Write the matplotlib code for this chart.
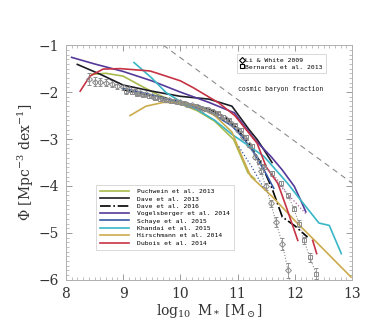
import numpy as np
import matplotlib
matplotlib.use("Agg")
import matplotlib.pyplot as plt
from matplotlib.ticker import MultipleLocator
from matplotlib.lines import Line2D

# simulation curves, log10 M* vs log10 Phi
puch_x = [8.45, 8.7, 9.0, 9.3, 9.6, 10.0, 10.3, 10.6, 10.93, 11.05, 11.18, 11.3]
puch_y = [-1.62, -1.6, -1.66, -1.86, -2.05, -2.25, -2.4, -2.62, -3.01, -3.35, -3.72, -3.85]

dave13_x = [8.2, 8.6, 9.0, 9.5, 10.0, 10.5, 10.9, 11.05, 11.2, 11.34, 11.46, 11.6]
dave13_y = [-1.41, -1.62, -1.85, -1.98, -2.09, -2.15, -2.3, -2.55, -2.8, -3.01, -3.23, -3.5]

dave16_x = [9.0, 9.5, 10.0, 10.5, 10.8, 11.0, 11.2, 11.4, 11.6, 11.78, 12.0, 12.22]
dave16_y = [-1.95, -2.07, -2.2, -2.36, -2.55, -2.8, -3.1, -3.5, -4.05, -4.66, -4.85, -5.09]

vogel_x = [8.1, 8.5, 9.0, 9.5, 10.0, 10.5, 10.94, 11.29, 11.58, 11.78, 11.99, 12.1, 12.19]
vogel_y = [-1.26, -1.4, -1.56, -1.76, -2.0, -2.22, -2.44, -3.0, -3.37, -3.66, -4.01, -4.3, -4.55]

schaye_x = [9.0, 9.5, 10.0, 10.5, 10.9, 11.1, 11.3, 11.5, 11.63]
schaye_y = [-1.92, -2.06, -2.22, -2.42, -2.72, -2.98, -3.32, -3.75, -4.05]

khandai_x = [9.19, 9.5, 9.75, 10.0, 10.3, 10.6, 10.9, 11.2, 11.46, 11.87, 12.1, 12.42, 12.6, 12.81]
khandai_y = [-1.37, -1.7, -2.01, -2.2, -2.38, -2.6, -2.9, -3.15, -3.37, -3.94, -4.3, -4.79, -4.84, -5.44]

hirsch_x = [9.12, 9.4, 9.7, 10.0, 10.3, 10.6, 10.9, 11.05, 11.23, 11.6, 12.0, 12.46, 12.98]
hirsch_y = [-2.5, -2.3, -2.22, -2.22, -2.3, -2.5, -2.85, -3.3, -3.8, -4.22, -4.74, -5.3, -5.94]

dubois_x = [8.25, 8.42, 8.65, 8.95, 9.47, 9.65, 10.0, 10.23, 10.67, 10.95, 11.34, 11.5, 11.7, 11.85, 12.05]
dubois_y = [-1.98, -1.66, -1.51, -1.5, -1.55, -1.62, -1.76, -1.91, -2.23, -2.5, -3.09, -3.6, -3.94, -4.45, -5.16]
dubois2_x = [12.31, 12.38]
dubois2_y = [-5.16, -5.44]

# extra dotted variants
pinkdot_x = [11.5, 11.81, 12.19]
pinkdot_y = [-3.6, -4.09, -4.59]
bluedot_x = [11.02, 11.25, 11.46]
bluedot_y = [-3.16, -3.6, -4.05]

# observations
lw_x = [8.4, 8.5, 8.6, 8.7, 8.8, 8.9, 9.0, 9.1, 9.2, 9.3, 9.4, 9.5, 9.6, 9.7, 9.8, 9.9,
        10.0, 10.1, 10.2, 10.3, 10.4, 10.5, 10.6, 10.7, 10.8, 10.9, 11.0, 11.1, 11.2,
        11.3, 11.4, 11.49, 11.58, 11.67, 11.78, 11.88]
lw_y = [-1.72, -1.78, -1.79, -1.8, -1.82, -1.86, -1.9, -1.94, -1.98, -2.02, -2.05, -2.08,
        -2.11, -2.14, -2.17, -2.2, -2.22, -2.25, -2.28, -2.31, -2.35, -2.39, -2.44, -2.5,
        -2.58, -2.68, -2.8, -2.95, -3.13, -3.38, -3.68, -4.01, -4.37, -4.77, -5.23, -5.8]
lw_err = [0.12, 0.1, 0.09, 0.08, 0.08, 0.07, 0.06, 0.05, 0.05, 0.04, 0.04, 0.04, 0.04,
          0.03, 0.03, 0.03, 0.03, 0.03, 0.03, 0.03, 0.03, 0.03, 0.03, 0.03, 0.03, 0.03,
          0.04, 0.04, 0.05, 0.05, 0.06, 0.07, 0.08, 0.1, 0.13, 0.16]

bern_x = [9.05, 9.15, 9.25, 9.35, 9.45, 9.55, 9.65, 9.75, 9.85, 9.95, 10.05, 10.15, 10.25,
          10.35, 10.45, 10.55, 10.65, 10.75, 10.85, 10.95, 11.05, 11.15, 11.25, 11.37,
          11.46, 11.6, 11.75, 11.88, 11.98, 12.07, 12.16, 12.26, 12.37]
bern_y = [-1.98, -2.0, -2.03, -2.06, -2.09, -2.12, -2.15, -2.17, -2.2, -2.22, -2.24, -2.27,
          -2.3, -2.33, -2.36, -2.4, -2.45, -2.52, -2.6, -2.7, -2.8, -2.95, -3.15, -3.48,
          -3.59, -3.73, -3.94, -4.2, -4.48, -4.8, -5.16, -5.52, -5.87]
bern_err = [0.05, 0.04, 0.04, 0.03, 0.03, 0.03, 0.03, 0.03, 0.03, 0.03, 0.03, 0.03, 0.03,
            0.03, 0.03, 0.03, 0.03, 0.03, 0.03, 0.03, 0.03, 0.03, 0.04, 0.04, 0.05, 0.05,
            0.05, 0.06, 0.06, 0.07, 0.08, 0.1, 0.12]

baryon_x = [9.7, 13.0]
baryon_y = [-1.0, -3.94]

sims = [
    ("Puchwein et al. 2013", puch_x, puch_y, "#a9b94c", "-"),
    ("Dave et al. 2013", dave13_x, dave13_y, "#1c1c24", "-"),
    ("Dave et al. 2016", dave16_x, dave16_y, "#000000", "-."),
    ("Vogelsberger et al. 2014", vogel_x, vogel_y, "#55399a", "-"),
    ("Schaye et al. 2015", schaye_x, schaye_y, "#3658a6", "-"),
    ("Khandai et al. 2015", khandai_x, khandai_y, "#38b6c6", "-"),
    ("Hirschmann et al. 2014", hirsch_x, hirsch_y, "#cbab4c", "-"),
    ("Dubois et al. 2014", dubois_x, dubois_y, "#c63344", "-"),
]

plt.rcParams['mathtext.fontset'] = 'dejavuserif'
fig = plt.figure(figsize=(3.68, 3.32), dpi=100)
ax = fig.add_axes([0.179, 0.157, 0.778, 0.707])

gray = "#8c8c8c"
ax.plot(baryon_x, baryon_y, color=gray, ls=(0, (5, 4)), lw=0.8)

# data first so sims lie on top
ax.errorbar(lw_x, lw_y, yerr=lw_err, fmt="D", ms=3, mfc="none", mec=gray, mew=0.7,
            ecolor=gray, elinewidth=0.6, capsize=1.5, ls=":", color=gray, lw=0.8)
ax.errorbar(bern_x, bern_y, yerr=bern_err, fmt="s", ms=3, mfc="none", mec=gray, mew=0.7,
            ecolor=gray, elinewidth=0.6, capsize=1.5, ls=":", color=gray, lw=0.8)

handles = []
for label, xs, ys, c, ls in sims:
    h, = ax.plot(xs, ys, color=c, ls=ls, lw=1.2, label=label)
    handles.append(h)
ax.plot(dubois2_x, dubois2_y, color="#c63344", lw=1.2)
ax.plot(pinkdot_x, pinkdot_y, color="#b05aa0", ls=":", lw=0.9)
ax.plot(bluedot_x, bluedot_y, color="#3658a6", ls=":", lw=0.9)

ax.set_xlim(8, 13)
ax.set_ylim(-6, -1)
ax.xaxis.set_major_locator(MultipleLocator(1))
ax.xaxis.set_minor_locator(MultipleLocator(0.1))
ax.yaxis.set_major_locator(MultipleLocator(1))
ax.yaxis.set_minor_locator(MultipleLocator(0.1))
ax.tick_params(which="both", direction="in", top=True, right=True, color=gray)
ax.tick_params(which="major", length=4, width=0.6, labelsize=10, labelcolor="#333333", pad=5)
ax.tick_params(which="minor", length=2, width=0.4)
for tl in ax.get_xticklabels() + ax.get_yticklabels():
    tl.set_family("DejaVu Serif")
for s in ax.spines.values():
    s.set_color("#b0b0b0")
    s.set_linewidth(0.7)

ax.set_xlabel(r"$\log_{10}\ \mathrm{M_*}\ [\mathrm{M_\odot}]$", fontsize=10, color="#333333", labelpad=1)
ax.set_ylabel(r"$\Phi\ [\mathrm{Mpc^{-3}\ dex^{-1}}]$", fontsize=10, color="#333333", labelpad=2)

mono = "DejaVu Sans Mono"
ax.text(11.0, -1.94, "cosmic baryon fraction", family=mono, fontsize=4.7,
        color="#222222", va="center")

leg1 = ax.legend(handles=handles, loc="lower left", bbox_to_anchor=(0.095, 0.115),
                 prop={"family": mono, "size": 4.6}, frameon=True,
                 fancybox=False, edgecolor="#c8c8c8", handlelength=4.6,
                 labelspacing=0.3, borderpad=0.6, handletextpad=1.2)
leg1.get_frame().set_linewidth(0.6)
ax.add_artist(leg1)

obs_handles = [
    Line2D([], [], marker="D", ls="none", ms=3, mfc="none", mec="black", mew=0.8),
    Line2D([], [], marker="s", ls="none", ms=3.5, mfc="none", mec="black", mew=0.8),
]
leg2 = ax.legend(obs_handles, ["Li & White 2009", "Bernardi et al. 2013"], loc="upper left",
                 bbox_to_anchor=(0.585, 0.975), prop={"family": mono, "size": 4.6},
                 frameon=True, fancybox=False, edgecolor="#c8c8c8", handlelength=0.6,
                 labelspacing=0.2, borderpad=0.5, handletextpad=0.3)
leg2.get_frame().set_linewidth(0.6)

fig.savefig("out.png", dpi=100)
